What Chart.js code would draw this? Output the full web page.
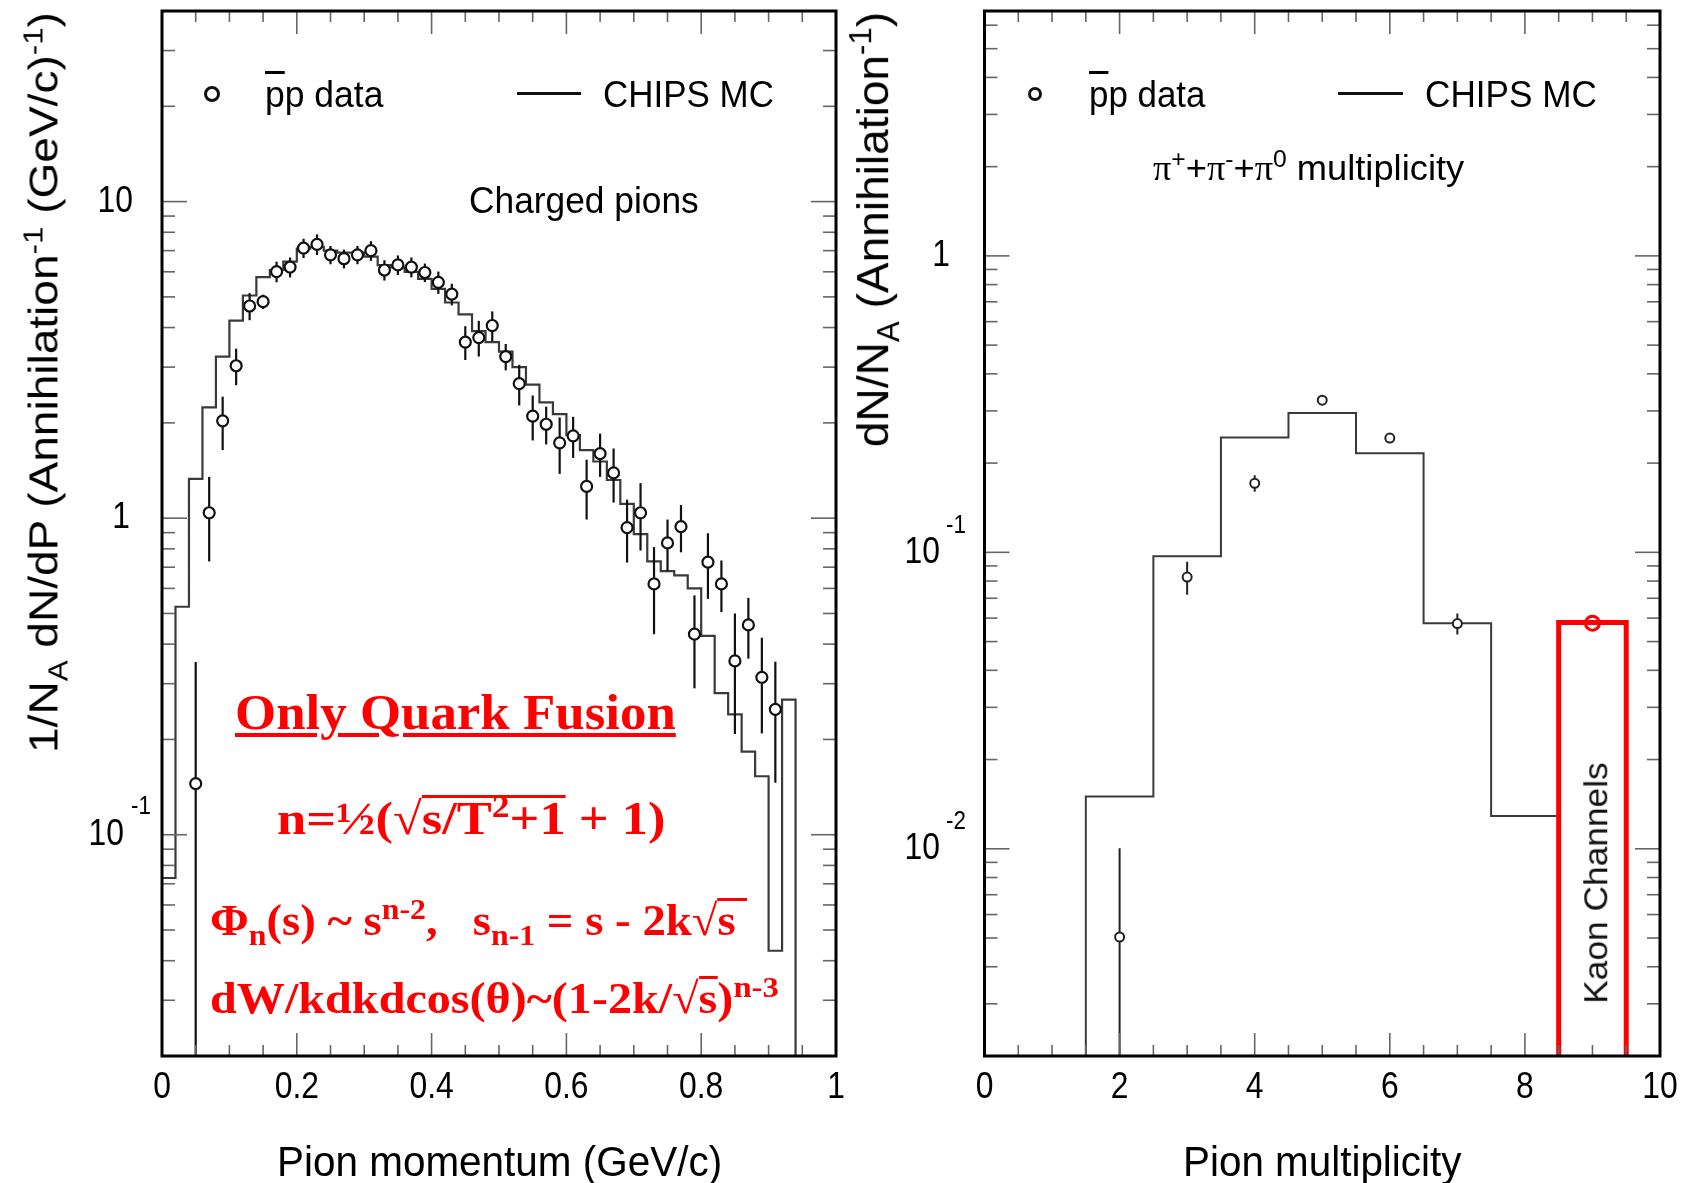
<!DOCTYPE html>
<html>
<head>
<meta charset="utf-8">
<script src="https://cdn.jsdelivr.net/npm/chart.js@4.4.0/dist/chart.umd.min.js"></script>
<style>
  html, body { margin: 0; padding: 0; background: #fff; }
  #page { position: relative; width: 1685px; height: 1183px; overflow: hidden; background: #fff;
          font-family: "Liberation Sans", Arial, sans-serif; color: #000; }
  canvas { position: absolute; top: 0; }
  .t { position: absolute; white-space: nowrap; line-height: 1; }
  .t sup, .t sub { font-size: 0.68em; line-height: 0; }
  .t sub { vertical-align: -0.35em; }
  .t sup { vertical-align: 0.55em; }
  .red { color: #ff0000; font-family: "Liberation Serif", "Times New Roman", serif; font-weight: bold; }
  .ov { display: inline-block; border-top: 3px solid #ff0000; line-height: 0.92; }
  .pi { font-family: "Liberation Serif", serif; }
  .mk-circle { position: absolute; border: 3px solid #111; border-radius: 50%; background: #fff; }
  .mk-line { position: absolute; height: 3px; background: #111; }
</style>
</head>
<body>
<div id="page">
  <canvas id="momentumChart" width="900" height="1183" style="left:0"></canvas>
  <canvas id="multChart" width="785" height="1183" style="left:900px"></canvas>

  <!-- left panel legend and labels -->
  <div class="mk-circle" style="left:204px; top:86px; width:10px; height:10px"></div>
  <div class="t" data-x="265" data-cy="94" data-w="118" style="font-size:37px"><span style="text-decoration:overline">p</span>p data</div>
  <div class="mk-line" style="left:517px; top:92px; width:64px"></div>
  <div class="t" data-x="603" data-cy="94" data-w="171" style="font-size:37px">CHIPS MC</div>
  <div class="t" data-x="469" data-cy="200" data-w="230" style="font-size:37px">Charged pions</div>

  <div class="t" data-rot="1" data-cx="44" data-cy="382" data-w="741" style="font-size:41px">1/N<sub>A</sub> dN/dP (Annihilation<sup>-1</sup> (GeV/c)<sup>-1</sup>)</div>
  <div class="t" data-x="277" data-cy="1162" data-w="445" style="font-size:42px">Pion momentum (GeV/c)</div>

  <!-- red annotations -->
  <div class="t red" data-x="235" data-cy="712" data-w="441" style="font-size:50px; text-decoration:underline; text-decoration-thickness:4px; text-underline-offset:4px">Only Quark Fusion</div>
  <div class="t red" data-x="277" data-cy="818" data-w="389" style="font-size:46px">n=½(√<span class="ov">s/T<sup>2</sup>+1</span> + 1)</div>
  <div class="t red" data-x="210" data-cy="920" data-w="537" style="font-size:44px">Φ<sub>n</sub>(s) ~ s<sup>n-2</sup>,&nbsp;&nbsp; s<sub>n-1</sub> = s - 2k√<span class="ov">s&nbsp;</span></div>
  <div class="t red" data-x="210" data-cy="998" data-w="569" style="font-size:44px">dW/kdkdcos(θ)~(1-2k/√<span class="ov">s</span>)<sup>n-3</sup></div>

  <!-- right panel legend and labels -->
  <div class="mk-circle" style="left:1028px; top:87px; width:8px; height:8px"></div>
  <div class="t" data-x="1089" data-cy="94" data-w="116" style="font-size:37px"><span style="text-decoration:overline">p</span>p data</div>
  <div class="mk-line" style="left:1338px; top:92px; width:65px"></div>
  <div class="t" data-x="1425" data-cy="94" data-w="172" style="font-size:37px">CHIPS MC</div>
  <div class="t" data-x="1153" data-cy="168" data-w="311" style="font-size:35px"><span class="pi">π</span><sup>+</sup>+<span class="pi">π</span><sup>-</sup>+<span class="pi">π</span><sup>0</sup> multiplicity</div>

  <div class="t" data-rot="1" data-cx="872" data-cy="229" data-w="435" style="font-size:45px">dN/N<sub>A</sub> (Annihilation<sup>-1</sup>)</div>
  <div class="t" data-x="1183" data-cy="1162" data-w="278" style="font-size:42px">Pion multiplicity</div>
  <div class="t" data-rot="1" data-cx="1595" data-cy="883" data-w="242" style="font-size:34px; color:#111">Kaon Channels</div>
</div>

<script>
// ---- left panel: charged pion momentum, pbar-p data ----
const momentumData = [0.05, 0.07, 0.09, 0.11, 0.13, 0.15, 0.17, 0.19, 0.21, 0.23, 0.25,
  0.27, 0.29, 0.31, 0.33, 0.35, 0.37, 0.39, 0.41, 0.43, 0.45, 0.47, 0.49, 0.51, 0.53,
  0.55, 0.57, 0.59, 0.61, 0.63, 0.65, 0.67, 0.69, 0.71, 0.73, 0.75, 0.77, 0.79, 0.81,
  0.83, 0.85, 0.87, 0.89, 0.91];
const dndpData = [0.145, 1.04, 2.03, 3.03, 4.68, 4.83, 6.01, 6.21, 7.13, 7.33, 6.79,
  6.60, 6.79, 7.00, 6.08, 6.31, 6.21, 5.97, 5.56, 5.10, 3.60, 3.72, 4.06, 3.24, 2.66,
  2.10, 1.98, 1.73, 1.82, 1.26, 1.60, 1.39, 0.934, 1.04, 0.62, 0.835, 0.94, 0.43, 0.726,
  0.62, 0.354, 0.46, 0.314, 0.249];
const dndpErr = [0.206, 0.31, 0.39, 0.40, 0.46, 0.25, 0.45, 0.45, 0.50, 0.55, 0.45,
  0.45, 0.45, 0.50, 0.45, 0.45, 0.45, 0.40, 0.45, 0.40, 0.44, 0.48, 0.44, 0.31, 0.39,
  0.34, 0.27, 0.35, 0.27, 0.27, 0.25, 0.27, 0.21, 0.25, 0.19, 0.155, 0.16, 0.14, 0.17,
  0.115, 0.146, 0.10, 0.105, 0.103];

// CHIPS MC histogram (low bin edges, last bin ends at mcMomentumEnd)
const mcMomentumLow = [0.00, 0.02, 0.04, 0.06, 0.08, 0.10, 0.12, 0.14, 0.16, 0.18, 0.20,
  0.22, 0.24, 0.26, 0.28, 0.30, 0.32, 0.34, 0.36, 0.38, 0.40, 0.42, 0.44, 0.46, 0.48,
  0.50, 0.52, 0.54, 0.56, 0.58, 0.60, 0.62, 0.64, 0.66, 0.68, 0.70, 0.72, 0.74, 0.76,
  0.78, 0.80, 0.82, 0.84, 0.86, 0.88, 0.90, 0.92];
const mcDndp = [0.073, 0.525, 1.33, 2.24, 3.24, 4.21, 5.05, 5.77, 6.08, 6.46, 7.1,
  7.2, 7.0, 6.9, 6.9, 6.7, 6.3, 6.2, 6.0, 5.7, 5.3, 4.8, 4.4, 3.9, 3.6,
  3.36, 3.0, 2.64, 2.32, 2.13, 1.83, 1.64, 1.51, 1.32, 1.11, 0.89, 0.73, 0.68, 0.66,
  0.60, 0.425, 0.28, 0.24, 0.183, 0.153, 0.043, 0.267];
const mcMomentumEnd = 0.94;

// ---- right panel: pion multiplicity ----
const multData = [2, 3, 4, 5, 6, 7];
const multProb = [0.00504, 0.0825, 0.171, 0.326, 0.243, 0.0575];
const multErr = [0.005, 0.0105, 0.011, 0.008, 0.006, 0.0047];
const mcMultLow = [1.5, 2.5, 3.5, 4.5, 5.5, 6.5, 7.5];
const mcMultProb = [0.0150, 0.097, 0.244, 0.295, 0.216, 0.0576, 0.0129];
const mcMultEnd = 8.5;
// kaon channels (red)
const kaonBin = [8.5, 9.5];
const kaonMC = 0.058;
const kaonN = [9];
const kaonProb = [0.0577];

// step outline for a histogram, optional rise from / drop to below the axis
function histPoints(lows, vals, end, floor, rise, drop) {
  const pts = [];
  if (rise) pts.push({ x: lows[0], y: floor });
  lows.forEach((x, i) => pts.push({ x, y: vals[i] }));
  pts.push({ x: end, y: vals[vals.length - 1] });
  if (drop) pts.push({ x: end, y: floor });
  return pts;
}

function isInt(v) { return Math.abs(v - Math.round(v)) < 1e-6; }

// narrow, tall glyphs like the original plot
function narrowText(ctx, text, x, y, size, align) {
  ctx.save();
  ctx.font = size + 'px "Liberation Sans", Arial, sans-serif';
  ctx.textAlign = align;
  ctx.textBaseline = 'middle';
  ctx.translate(x, y);
  ctx.scale(0.86, 1);
  ctx.fillText(text, 0, 0);
  ctx.restore();
}

// ROOT-like frame: inside tick marks on all sides, tick labels, error bars
const rootFrame = {
  id: 'rootFrame',
  beforeDatasetDraw(chart, args) {
    const ds = chart.data.datasets[args.index];
    if (!ds.errors) return;
    const { ctx, chartArea: a, scales: { x, y } } = chart;
    ctx.save();
    ctx.beginPath();
    ctx.rect(a.left, a.top, a.width, a.height);
    ctx.clip();
    ctx.strokeStyle = ds.errColor;
    ctx.lineWidth = ds.errWidth;
    ds.data.forEach((p, i) => {
      const px = x.getPixelForValue(p.x);
      const hi = y.getPixelForValue(p.y + ds.errors[i]);
      const lo = y.getPixelForValue(Math.max(p.y - ds.errors[i], y.min / 100));
      ctx.beginPath();
      ctx.moveTo(px, lo);
      ctx.lineTo(px, hi);
      ctx.stroke();
    });
    ctx.restore();
  },
  afterDraw(chart, args, o) {
    const { ctx, chartArea: a, scales: { x, y } } = chart;
    ctx.save();
    ctx.strokeStyle = '#666';
    ctx.lineWidth = 1.6;
    const seg = (x1, y1, x2, y2) => { ctx.beginPath(); ctx.moveTo(x1, y1); ctx.lineTo(x2, y2); ctx.stroke(); };

    x.ticks.forEach(t => {
      const px = x.getPixelForValue(t.value);
      const len = isInt(t.value / o.xMajor) ? 23 : 11;
      seg(px, a.bottom, px, a.bottom - len);
      seg(px, a.top, px, a.top + len);
    });
    const decades = [];
    y.ticks.forEach(t => {
      const v = t.value;
      const e = Math.floor(Math.log10(v) + 1e-9);
      const m = v / Math.pow(10, e);
      if (!isInt(m)) return;
      const py = y.getPixelForValue(v);
      const major = Math.abs(m - 1) < 1e-6;
      const len = major ? 25 : 13;
      seg(a.left, py, a.left + len, py);
      seg(a.right, py, a.right - len, py);
      if (major) decades.push({ e, py });
    });

    ctx.strokeStyle = '#000';
    ctx.lineWidth = 3;
    ctx.strokeRect(a.left, a.top, a.width, a.height);

    // tick labels
    ctx.fillStyle = '#000';
    x.ticks.forEach(t => {
      if (!isInt(t.value / o.xMajor)) return;
      narrowText(ctx, o.xFormat(t.value), x.getPixelForValue(t.value), a.bottom + 32, 37, 'center');
    });
    decades.forEach(({ e, py }) => {
      if (e === 0) {
        narrowText(ctx, '1', a.left - o.gap1, py, 37, 'right');
      } else if (e === 1) {
        narrowText(ctx, '10', a.left - o.gap10, py, 37, 'right');
      } else {
        narrowText(ctx, '10', a.left - o.gapNeg, py, 37, 'right');
        narrowText(ctx, String(e), a.left - o.gapNeg + o.supDx, py - o.supDy, 26, 'left');
      }
    });
    ctx.restore();
  }
};

function baseOptions(pad, xr, yr, frameOpts, xStep) {
  return {
    responsive: false,
    animation: false,
    devicePixelRatio: 1,
    events: [],
    layout: { padding: pad },
    plugins: { legend: { display: false }, tooltip: { enabled: false }, rootFrame: frameOpts },
    scales: {
      x: { type: 'linear', display: false, min: xr[0], max: xr[1], ticks: { stepSize: xStep } },
      y: { type: 'logarithmic', display: false, min: yr[0], max: yr[1] }
    }
  };
}

new Chart(document.getElementById('momentumChart'), {
  type: 'line',
  data: {
    datasets: [
      {
        label: 'pbar-p data',
        data: momentumData.map((p, i) => ({ x: p, y: dndpData[i] })),
        errors: dndpErr, errColor: '#111', errWidth: 2.2,
        showLine: false, pointRadius: 5.5, pointBorderWidth: 2.2,
        pointBorderColor: '#111', pointBackgroundColor: '#fff', order: 0
      },
      {
        label: 'CHIPS MC',
        data: histPoints(mcMomentumLow, mcDndp, mcMomentumEnd, 0.001, false, true),
        stepped: 'before', borderColor: '#3a3a3a', borderWidth: 2.2,
        pointRadius: 0, fill: false, clip: 0, order: 2
      }
    ]
  },
  options: baseOptions({ left: 162, right: 64, top: 11, bottom: 127 }, [0, 1], [0.02, 40], {
    xMajor: 0.2,
    xFormat: v => (isInt(v) ? String(Math.round(v)) : v.toFixed(1)),
    gap1: 32, gap10: 29, gapNeg: 38, supDx: 7, supDy: 28
  }, 0.05),
  plugins: [rootFrame]
});

new Chart(document.getElementById('multChart'), {
  type: 'line',
  data: {
    datasets: [
      {
        label: 'kaon data',
        data: kaonN.map((n, i) => ({ x: n, y: kaonProb[i] })),
        showLine: false, pointRadius: 7, pointBorderWidth: 3,
        pointBorderColor: '#ff0000', pointBackgroundColor: 'rgba(0,0,0,0)', order: 0
      },
      {
        label: 'pbar-p data',
        data: multData.map((n, i) => ({ x: n, y: multProb[i] })),
        errors: multErr, errColor: '#222', errWidth: 2,
        showLine: false, pointRadius: 4.5, pointBorderWidth: 2,
        pointBorderColor: '#222', pointBackgroundColor: '#fff', order: 1
      },
      {
        label: 'kaon MC',
        data: [{ x: kaonBin[0], y: 0.0001 }, { x: kaonBin[0], y: kaonMC },
               { x: kaonBin[1], y: kaonMC }, { x: kaonBin[1], y: 0.0001 }],
        borderColor: '#ff0000', borderWidth: 5, pointRadius: 0, fill: false, clip: 0, order: 2
      },
      {
        label: 'CHIPS MC',
        data: histPoints(mcMultLow, mcMultProb, mcMultEnd, 0.0001, true, false),
        stepped: 'before', borderColor: '#3a3a3a', borderWidth: 2,
        pointRadius: 0, fill: false, clip: 0, order: 3
      }
    ]
  },
  options: baseOptions({ left: 84.5, right: 25, top: 11, bottom: 127 }, [0, 10], [0.002, 6.7], {
    xMajor: 2,
    xFormat: v => String(Math.round(v)),
    gap1: 34.5, gap10: 34.5, gapNeg: 44.5, supDx: 6, supDy: 27
  }, 0.5),
  plugins: [rootFrame]
});

// place text: horizontal scale so each label spans its measured width
document.querySelectorAll('.t').forEach(el => {
  const d = el.dataset;
  const w0 = el.offsetWidth, h0 = el.offsetHeight;
  const k = d.w ? (+d.w / w0) : 1;
  if (d.rot) {
    el.style.left = (+d.cx - w0 / 2) + 'px';
    el.style.top = (+d.cy - h0 / 2) + 'px';
    el.style.transformOrigin = '50% 50%';
    el.style.transform = 'rotate(-90deg) scaleX(' + k + ')';
  } else {
    el.style.left = d.x + 'px';
    el.style.top = (+d.cy - h0 / 2) + 'px';
    el.style.transformOrigin = '0 50%';
    el.style.transform = 'scaleX(' + k + ')';
  }
});
</script>
</body>
</html>
